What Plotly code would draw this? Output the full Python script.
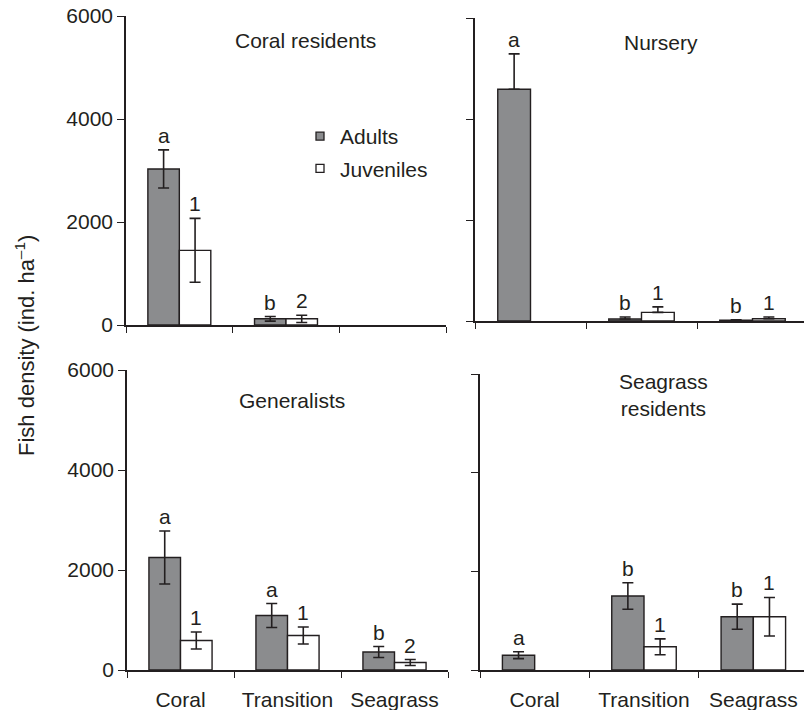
import plotly.graph_objects as go

# Habitat categories along each x axis
categories = ["Coral", "Transition", "Seagrass"]

# Panel titles
panel_titles = ["Coral residents", "Nursery", "Generalists", "Seagrass<br>residents"]

# Mean fish density (ind. ha^-1) and standard errors per functional group
coral_res_adults = [3030, 120, None]
coral_res_adults_se = [370, 45, None]
coral_res_juv = [1450, 120, None]
coral_res_juv_se = [620, 70, None]
coral_res_adults_lbl = ["a", "b", None]
coral_res_juv_lbl = ["1", "2", None]

nursery_adults = [4590, 40, 15]
nursery_adults_se = [700, 40, 10]
nursery_juv = [None, 170, 45]
nursery_juv_se = [None, 110, 35]
nursery_adults_lbl = ["a", "b", "b"]
nursery_juv_lbl = [None, "1", "1"]

general_adults = [2250, 1090, 360]
general_adults_se = [530, 240, 110]
general_juv = [590, 690, 150]
general_juv_se = [170, 170, 60]
general_adults_lbl = ["a", "a", "b"]
general_juv_lbl = ["1", "1", "2"]

seagrass_res_adults = [300, 1500, 1080]
seagrass_res_adults_se = [70, 270, 255]
seagrass_res_juv = [None, 470, 1080]
seagrass_res_juv_se = [None, 160, 390]
seagrass_res_adults_lbl = ["a", "b", "b"]
seagrass_res_juv_lbl = [None, "1", "1"]

y_ticks = [0, 2000, 4000, 6000]

FONT = "Liberation Sans, Arial, Helvetica, sans-serif"
INK = "#231f20"
ADULT_FILL = "#8b8c8e"
FS = 21
W, H = 804, 710

BARGAP = 0.41
HALF = (1 - BARGAP) / 4  # offset of each bar centre from the category centre

panels = [
    dict(ad=coral_res_adults, ad_se=coral_res_adults_se, ju=coral_res_juv, ju_se=coral_res_juv_se,
         ad_l=coral_res_adults_lbl, ju_l=coral_res_juv_lbl, up_only=False),
    dict(ad=nursery_adults, ad_se=nursery_adults_se, ju=nursery_juv, ju_se=nursery_juv_se,
         ad_l=nursery_adults_lbl, ju_l=nursery_juv_lbl, up_only=True),
    dict(ad=general_adults, ad_se=general_adults_se, ju=general_juv, ju_se=general_juv_se,
         ad_l=general_adults_lbl, ju_l=general_juv_lbl, up_only=False),
    dict(ad=seagrass_res_adults, ad_se=seagrass_res_adults_se, ju=seagrass_res_juv, ju_se=seagrass_res_juv_se,
         ad_l=seagrass_res_adults_lbl, ju_l=seagrass_res_juv_lbl, up_only=False),
]

# Pixel placement of each panel: x-axis start/end, y pixel of 0 and of 6000
boxes = [
    (126, 446, 325, 16),
    (475, 808, 321, 18),
    (127, 448, 670, 370),
    (480, 808, 670, 374),
]
title_pos = [(305, 40), (661, 42), (292, 400), (663, 395)]

fig = go.Figure()
annotations = []

for i, p in enumerate(panels):
    n = "" if i == 0 else str(i + 1)
    xa, ya = "x" + n, "y" + n

    def err(se):
        if p["up_only"]:
            return dict(type="data", array=se, arrayminus=[0 if v is not None else None for v in se],
                        symmetric=False, color=INK, thickness=1.6, width=5.5)
        return dict(type="data", array=se, color=INK, thickness=1.6, width=5.5)

    fig.add_trace(go.Bar(
        x=categories, y=p["ad"], xaxis=xa, yaxis=ya, name="Adults",
        marker=dict(color=ADULT_FILL, line=dict(color=INK, width=1.4)),
        error_y=err(p["ad_se"]), showlegend=False, offsetgroup="ad",
    ))
    fig.add_trace(go.Bar(
        x=categories, y=p["ju"], xaxis=xa, yaxis=ya, name="Juveniles",
        marker=dict(color="white", line=dict(color=INK, width=1.4)),
        error_y=err(p["ju_se"]), showlegend=False, offsetgroup="ju",
    ))

    # significance letters above each error bar
    for vals, ses, lbls, sign in ((p["ad"], p["ad_se"], p["ad_l"], -1), (p["ju"], p["ju_se"], p["ju_l"], 1)):
        for k, (v, s, t) in enumerate(zip(vals, ses, lbls)):
            if t is None or v is None:
                continue
            annotations.append(dict(
                x=k + sign * HALF, y=v + (s or 0), xref=xa, yref=ya, text=t, showarrow=False,
                xanchor="center", yanchor="bottom", yshift=1,
                font=dict(size=FS, color=INK, family=FONT),
            ))

    x0, x1, y0px, y6px = boxes[i]
    xdom = [x0 / W, min(x1 / W, 1.0)]
    ydom = [1 - y0px / H, 1 - y6px / H]
    span = (x1 - x0) / 3
    xr_hi = -0.5 + (xdom[1] * W - x0) / span
    bottom = i >= 2
    left = i % 2 == 0
    fig.update_layout(**{
        ("xaxis" + n): dict(
            domain=xdom, anchor=ya, type="category", categoryarray=categories,
            range=[-0.5, xr_hi], tickson="boundaries", ticks="outside", ticklen=6,
            tickwidth=1.4, tickcolor=INK, showline=True, linecolor=INK, linewidth=1.6,
            showgrid=False, zeroline=False, showticklabels=bottom, automargin=False,
            ticklabelstandoff=10, tickfont=dict(size=FS, color=INK, family=FONT),
        ),
        ("yaxis" + n): dict(
            domain=ydom, anchor=xa, range=[0, 6000], tickvals=y_ticks, ticks="outside",
            ticklen=7, tickwidth=1.4, tickcolor=INK, showline=True, linecolor=INK,
            linewidth=1.6, showgrid=False, zeroline=False, showticklabels=left,
            automargin=False, tickfont=dict(size=FS, color=INK, family=FONT),
        ),
    })

    tx, ty = title_pos[i]
    annotations.append(dict(
        x=tx / W, y=1 - ty / H, xref="paper", yref="paper", text=panel_titles[i],
        xanchor="center", yanchor="middle", showarrow=False,
        font=dict(size=FS, color=INK, family=FONT), align="center",
    ))

# legend entries (square swatches) for the two age classes
fig.add_trace(go.Scatter(
    x=[None], y=[None], mode="markers", name="Adults", legendgroup="adults",
    marker=dict(symbol="square", size=8, color=ADULT_FILL, line=dict(color=INK, width=1.3)),
))
fig.add_trace(go.Scatter(
    x=[None], y=[None], mode="markers", name="Juveniles", legendgroup="juveniles",
    marker=dict(symbol="square", size=8, color="white", line=dict(color=INK, width=1.3)),
))

# shared y-axis title
annotations.append(dict(
    x=25 / W, y=1 - 346 / H, xref="paper", yref="paper",
    text="Fish density (ind. ha<sup>–1</sup>)", textangle=-90, showarrow=False,
    xanchor="center", yanchor="middle",
    font=dict(size=22, color=INK, family=FONT),
))

fig.update_layout(
    width=W, height=H, margin=dict(l=0, r=0, t=0, b=0, autoexpand=False),
    paper_bgcolor="white", plot_bgcolor="white",
    barmode="group", bargap=BARGAP, bargroupgap=0,
    font=dict(family=FONT, color=INK, size=FS),
    annotations=annotations,
    showlegend=True,
    legend=dict(x=300 / W, y=1 - 116 / H, xanchor="left", yanchor="top",
                bgcolor="rgba(0,0,0,0)", font=dict(size=FS, color=INK, family=FONT),
                tracegroupgap=2, itemwidth=30),
)

fig.write_html("out.html")
